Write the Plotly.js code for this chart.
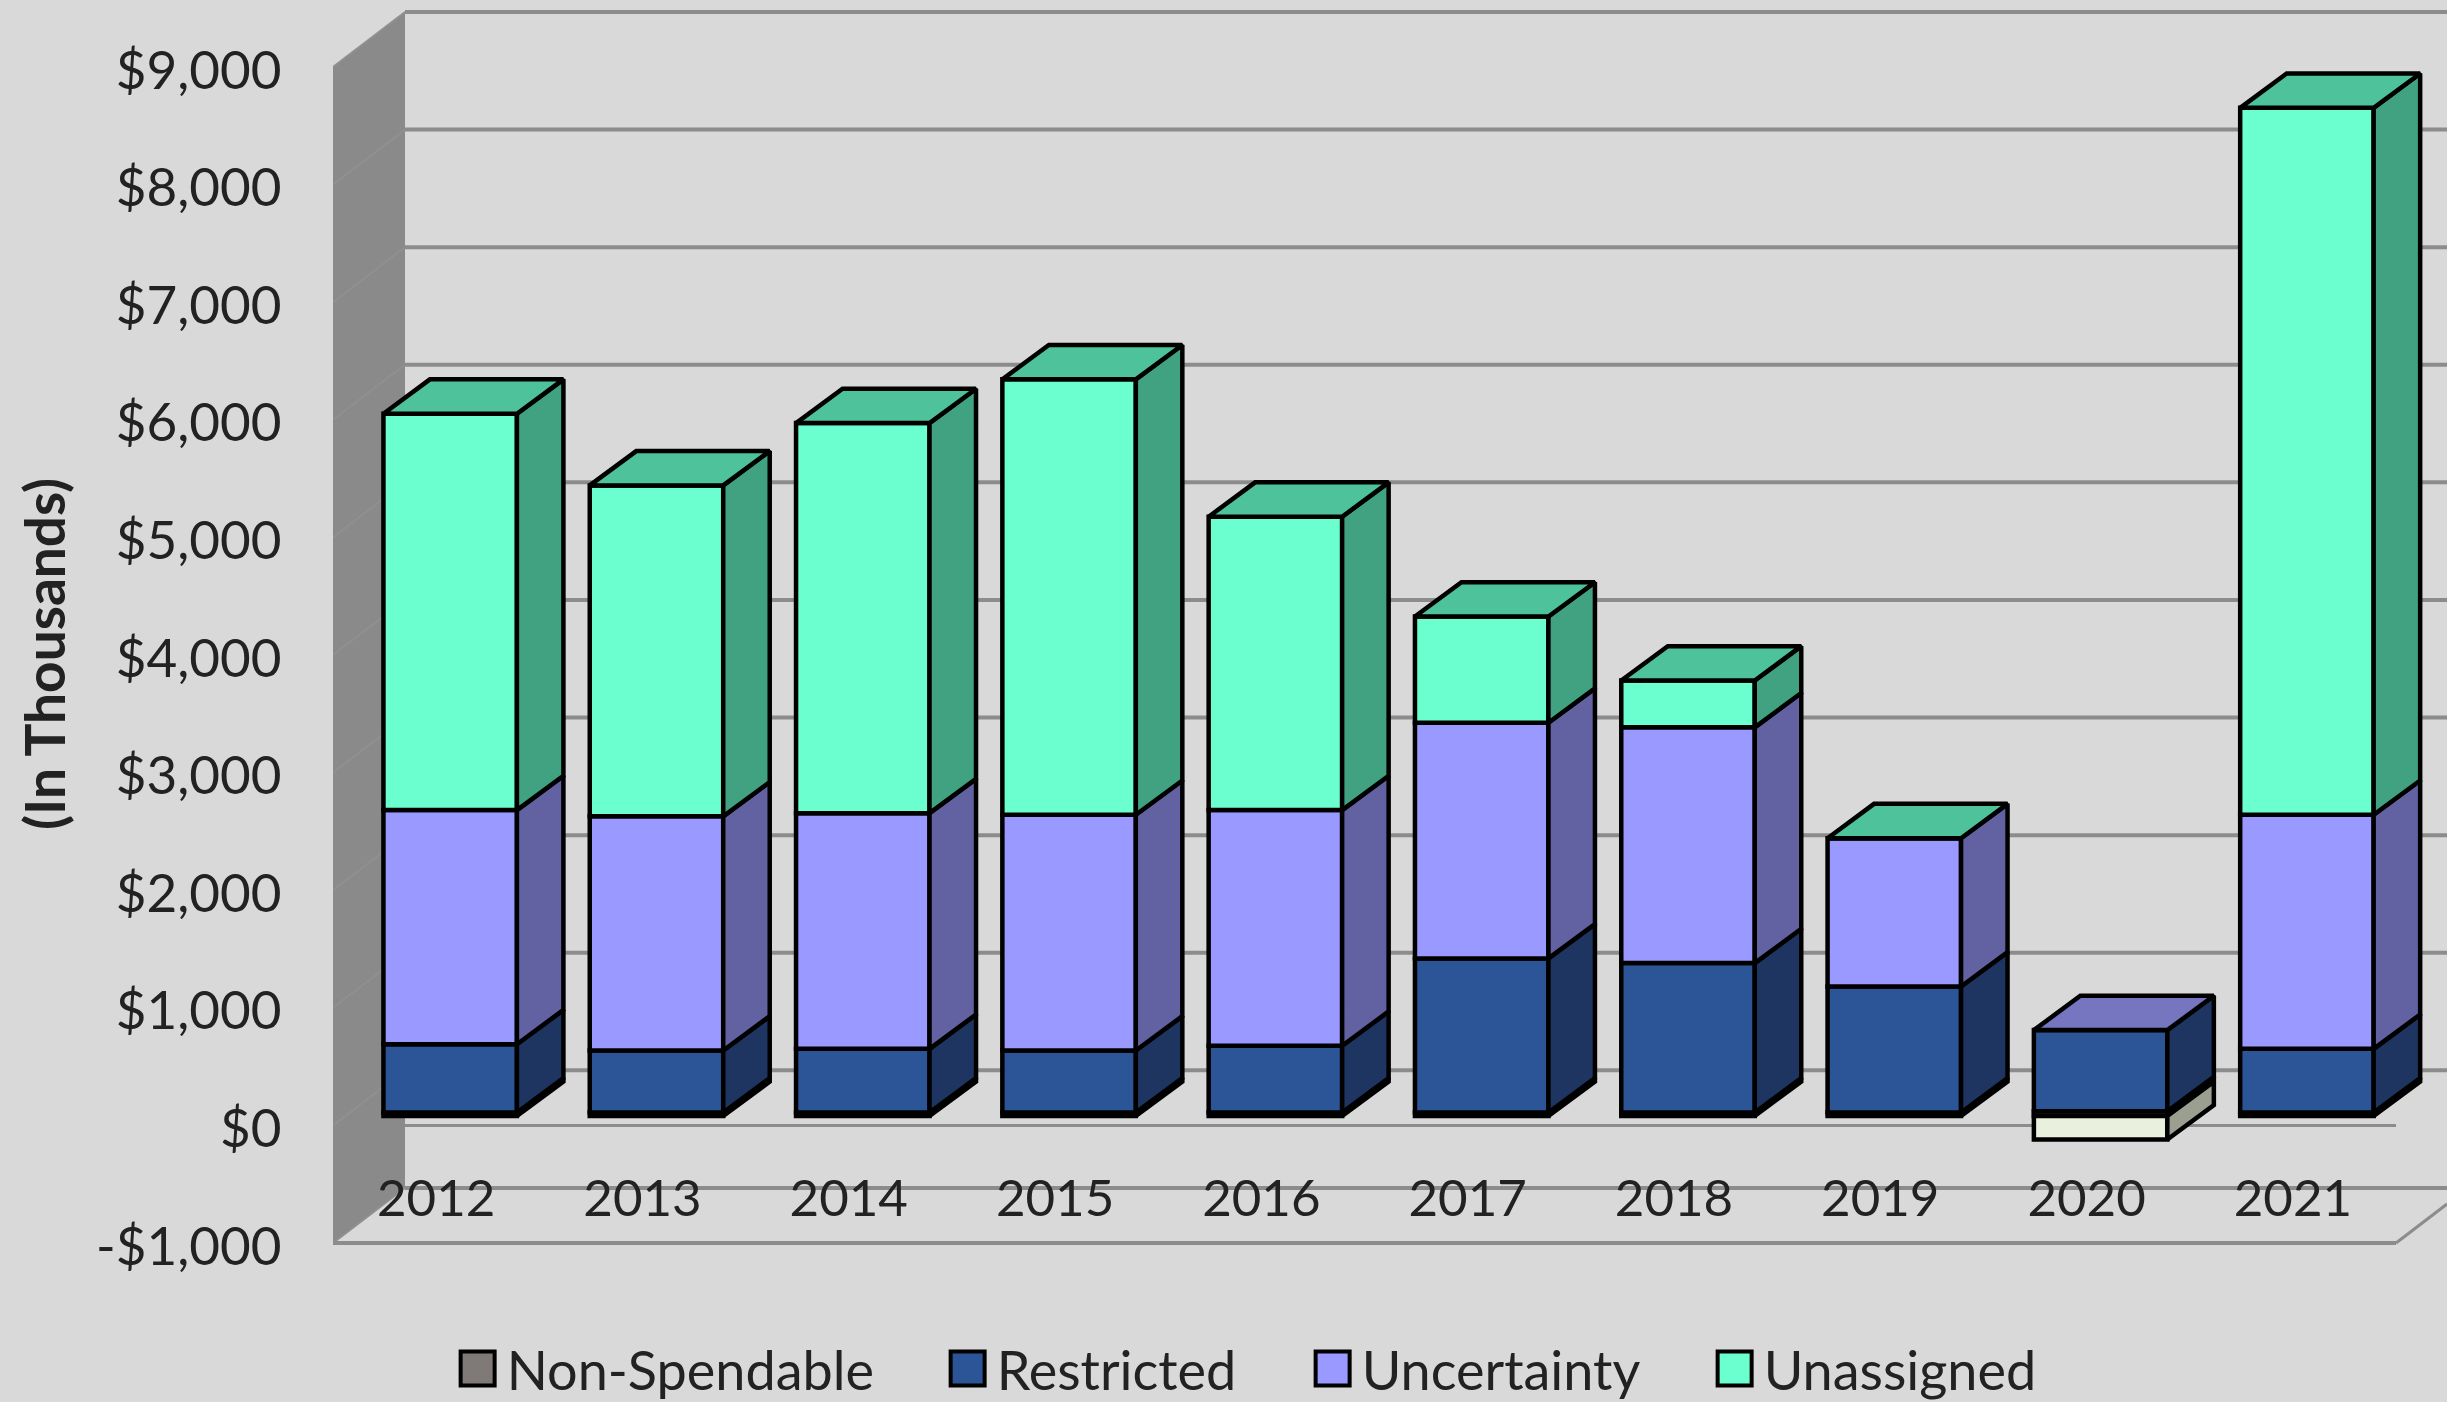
<!DOCTYPE html>
<html>
<head>
<meta charset="utf-8">
<script src="https://cdn.plot.ly/plotly-3.0.1.min.js"></script>
<style>html,body{margin:0;padding:0;background:#d9d9d9}</style>
</head>
<body>
<div id="chart"></div>
<script>
// Fund balance by year, in thousands of dollars
const years = [2012, 2013, 2014, 2015, 2016, 2017, 2018, 2019, 2020, 2021];
const nonSpendable = [30, 30, 30, 30, 30, 30, 30, 30, 40, 30];
const restricted = [580, 527, 541, 527, 567, 1310, 1270, 1071, 690, 541];
const uncertainty = [1991, 1991, 2004, 2004, 2004, 2004, 2005, 1261, 0, 1990];
const unassigned = [3371, 2814, 3317, 3703, 2495, 903, 398, 0, -200, 6012];

const seriesNames = ['Non-Spendable', 'Restricted', 'Uncertainty', 'Unassigned'];
const seriesValues = [nonSpendable, restricted, uncertainty, unassigned];
const frontColors = ['#7F7A78', '#2C5597', '#9999FF', '#6BFFCF'];
const sideColors = ['#4C4948', '#1D3560', '#6262A3', '#40A280'];
const topColors = ['#666260', '#36517F', '#7575C0', '#4DC29B'];
const negativeFront = '#EAF0DE';
const negativeSide = '#9B9F90';

const gridValues = [-1000, 0, 1000, 2000, 3000, 4000, 5000, 6000, 7000, 8000, 9000];
const gridLabels = ['-$1,000', '$0', '$1,000', '$2,000', '$3,000', '$4,000', '$5,000', '$6,000', '$7,000', '$8,000', '$9,000'];

// Oblique projection of the box: depths are expressed in axis units
const WALL_DX = 0.349, WALL_DY = 468;
const BAR_SHIFT_X = 0.068, BAR_SHIFT_Y = 80;
const BAR_WIDTH = 0.647, BAR_DX = 0.2254, BAR_DY = 292;
const X_MIN = 2011.5, X_MAX = 2021.747, Y_MIN = -1553, Y_MAX = 9570;
const X_FRONT_END = 2021.5;
const GRID = '#8C8C8C', WALL = '#8A8A8A', WALL_LINE = '#909090';
const EDGE = 4.5;

// Horizontal start of each legend entry, relative to the first
const legendOffsets = [0, 490, 855, 1257];

const cx = i => years[i] + BAR_SHIFT_X;
const polygonPath = pts => 'M' + pts.map(p => p[0] + ',' + p[1]).join('L') + 'Z';

// Stack the segments of each year; negative values go below zero
const stacks = years.map((_, i) => {
  let up = 0, down = 0;
  return seriesValues.map(vals => {
    const v = vals[i];
    if (v >= 0) { const s = {b: up, t: up + v}; up += v; return s; }
    const s = {b: down + v, t: down}; down += v; return s;
  });
});

const traces = [];

// Front faces
seriesValues.forEach((vals, s) => {
  traces.push({
    type: 'bar', name: seriesNames[s], x: years.map((_, i) => cx(i)),
    y: vals.map(v => Math.abs(v)),
    base: vals.map((_, i) => stacks[i][s].b + BAR_SHIFT_Y),
    width: BAR_WIDTH, hoverinfo: 'skip',
    marker: {color: vals.map(v => v < 0 ? negativeFront : frontColors[s]), line: {color: '#000', width: EDGE}}
  });
});

function faceTrace(xs, ys, color) {
  return {type: 'scatter', mode: 'lines', x: xs, y: ys, fill: 'toself', fillcolor: color,
    line: {color: '#000', width: EDGE}, showlegend: false, hoverinfo: 'skip', connectgaps: false};
}

// Right-hand faces, one trace per series
seriesValues.forEach((vals, s) => {
  const xs = [], ys = [], nx = [], ny = [];
  vals.forEach((v, i) => {
    if (v === 0) return;
    const r = cx(i) + BAR_WIDTH / 2, g = stacks[i][s];
    const b = g.b + BAR_SHIFT_Y, t = g.t + BAR_SHIFT_Y;
    (v < 0 ? nx : xs).push(r, r + BAR_DX, r + BAR_DX, r, r, null);
    (v < 0 ? ny : ys).push(b, b + BAR_DY, t + BAR_DY, t, b, null);
  });
  if (xs.length) traces.push(faceTrace(xs, ys, sideColors[s]));
  if (nx.length) traces.push(faceTrace(nx, ny, negativeSide));
});

// Top faces take the colour of the last series that sits above zero
seriesNames.forEach((_, s) => {
  const xs = [], ys = [];
  years.forEach((_, i) => {
    let last = 0;
    seriesValues.forEach((vals, k) => { if (vals[i] >= 0) last = k; });
    if (last !== s) return;
    const l = cx(i) - BAR_WIDTH / 2, r = cx(i) + BAR_WIDTH / 2;
    const t = stacks[i][s].t + BAR_SHIFT_Y;
    xs.push(l, r, r + BAR_DX, l + BAR_DX, l, null);
    ys.push(t, t, t + BAR_DY, t + BAR_DY, t, null);
  });
  if (xs.length) traces.push(faceTrace(xs, ys, topColors[s]));
});

// Box behind the bars: side wall, back-wall gridlines, floor edges
const shapes = [];
const gridLine = (x0, y0, x1, y1, color, width) => ({type: 'line', xref: 'x', yref: 'y', layer: 'below',
  x0, y0, x1, y1, line: {color, width}});
shapes.push({type: 'path', xref: 'x', yref: 'y', layer: 'below', fillcolor: WALL, line: {width: 0},
  path: polygonPath([[X_MIN, 9000], [X_MIN + WALL_DX, 9000 + WALL_DY], [X_MIN + WALL_DX, -1000 + WALL_DY], [X_MIN, -1000]])});
gridValues.forEach(v => {
  shapes.push(gridLine(X_MIN, v, X_MIN + WALL_DX, v + WALL_DY, WALL_LINE, 2));
  shapes.push(gridLine(X_MIN + WALL_DX, v + WALL_DY, X_MAX, v + WALL_DY, GRID, 4));
});
shapes.push(gridLine(X_MIN, -1000, X_FRONT_END, -1000, GRID, 4));
shapes.push(gridLine(X_FRONT_END, -1000, X_MAX, -1000 + WALL_DY * (X_MAX - X_FRONT_END) / WALL_DX, GRID, 3));
shapes.push(gridLine(X_MIN + WALL_DX, 0, X_FRONT_END, 0, GRID, 3));

const textFont = 'Lato, "Open Sans", sans-serif';
const layout = {
  width: 2447, height: 1402, autosize: false,
  margin: {l: 333, r: 0, t: 0, b: 94, pad: 0, autoexpand: false},
  paper_bgcolor: '#D9D9D9', plot_bgcolor: '#D9D9D9',
  barmode: 'overlay', showlegend: true, shapes,
  xaxis: {range: [X_MIN, X_MAX], tickmode: 'array', tickvals: years, ticktext: years.map(String),
    anchor: 'free', position: 0.110,
    showgrid: false, zeroline: false, showline: false, ticks: '',
    tickfont: {family: textFont, size: 51, color: '#222'}},
  yaxis: {range: [Y_MIN, Y_MAX], tickmode: 'array', tickvals: gridValues, ticktext: gridLabels,
    showgrid: false, zeroline: false, showline: false, ticks: 'outside', ticklen: 40, tickcolor: 'rgba(0,0,0,0)',
    ticklabelshift: 3,
    tickfont: {family: textFont, size: 53, color: '#222'},
    title: {text: '<b>(In Thousands)</b>', font: {family: textFont, size: 55, color: '#222'}, standoff: 12}},
  legend: {orientation: 'h', xanchor: 'left', yanchor: 'middle', x: 0.0547, y: -0.0466, itemwidth: 48,
    bgcolor: 'rgba(0,0,0,0)', font: {family: textFont, size: 54, color: '#222'}}
};

Plotly.newPlot('chart', traces, layout, {displayModeBar: false, staticPlot: true}).then(() => {
  // Larger legend keys than the library's default square, spread across the width
  document.querySelectorAll('.legend g.legendpoints path').forEach(p => {
    p.setAttribute('d', 'M17,17H-17V-17H17Z');
    p.style.strokeWidth = '4px';
  });
  document.querySelector('.legend .scrollbox').removeAttribute('clip-path');
  document.querySelectorAll('.legend g.traces').forEach((g, i) => {
    const y = g.getAttribute('transform').match(/,\s*([-\d.]+)\)/)[1];
    g.setAttribute('transform', 'translate(' + legendOffsets[i] + ',' + y + ')');
  });
});
</script>
</body>
</html>
